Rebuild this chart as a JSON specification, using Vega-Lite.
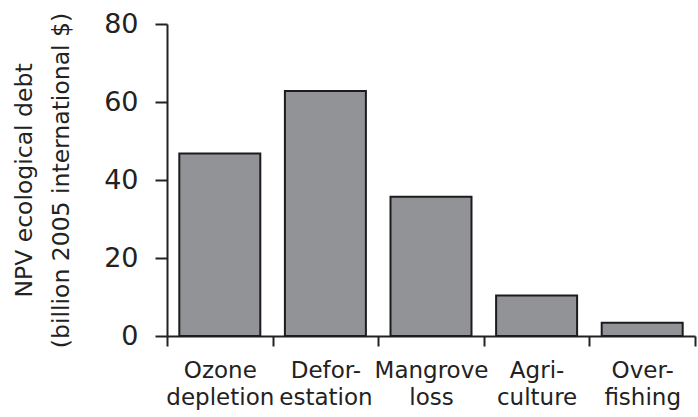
{
  "$schema": "https://vega.github.io/schema/vega-lite/v6.json",
  "width": 528,
  "height": 312,
  "autosize": "none",
  "padding": {"left": 167, "top": 24, "right": 3, "bottom": 81},
  "background": "white",
  "config": {"view": {"stroke": null}, "font": "DejaVu Sans"},
  "data": {
    "values": [
      {"category": "Ozone depletion", "debt": 46.8},
      {"category": "Defor- estation", "debt": 62.8},
      {"category": "Mangrove loss", "debt": 35.7},
      {"category": "Agri- culture", "debt": 10.4},
      {"category": "Over- fishing", "debt": 3.4}
    ]
  },
  "mark": {"type": "bar", "width": {"band": 0.767}, "fill": "#929397", "stroke": "#1c1c1c", "strokeWidth": 2},
  "encoding": {
    "x": {
      "field": "category",
      "type": "nominal",
      "sort": null,
      "scale": {"paddingInner": 0, "paddingOuter": 0},
      "axis": {
        "title": null,
        "labelAngle": 0,
        "tickBand": "extent",
        "labelExpr": "split(datum.label, ' ')",
        "labelFont": "DejaVu Sans",
        "labelFontSize": 23,
        "labelLineHeight": 27,
        "labelColor": "#222222",
        "labelOverlap": false,
        "domainColor": "#222222",
        "domainWidth": 2,
        "tickColor": "#222222",
        "tickWidth": 2,
        "tickSize": 10,
        "labelPadding": 13
      }
    },
    "y": {
      "field": "debt",
      "type": "quantitative",
      "scale": {"domain": [0, 80]},
      "axis": {
        "values": [0, 20, 40, 60, 80],
        "grid": false,
        "tickSize": 12,
        "tickWidth": 2,
        "tickColor": "#222222",
        "domainColor": "#222222",
        "domainWidth": 2,
        "labelPadding": 17,
        "labelFont": "DejaVu Sans",
        "labelFontSize": 27,
        "labelColor": "#222222",
        "labelFlush": false,
        "title": ["NPV ecological debt", "(billion 2005 international $)"],
        "titleFont": "DejaVu Sans",
        "titleFontSize": 23.5,
        "titleFontWeight": "normal",
        "titleColor": "#222222",
        "titleLineHeight": 37,
        "titlePadding": 30
      }
    }
  }
}
